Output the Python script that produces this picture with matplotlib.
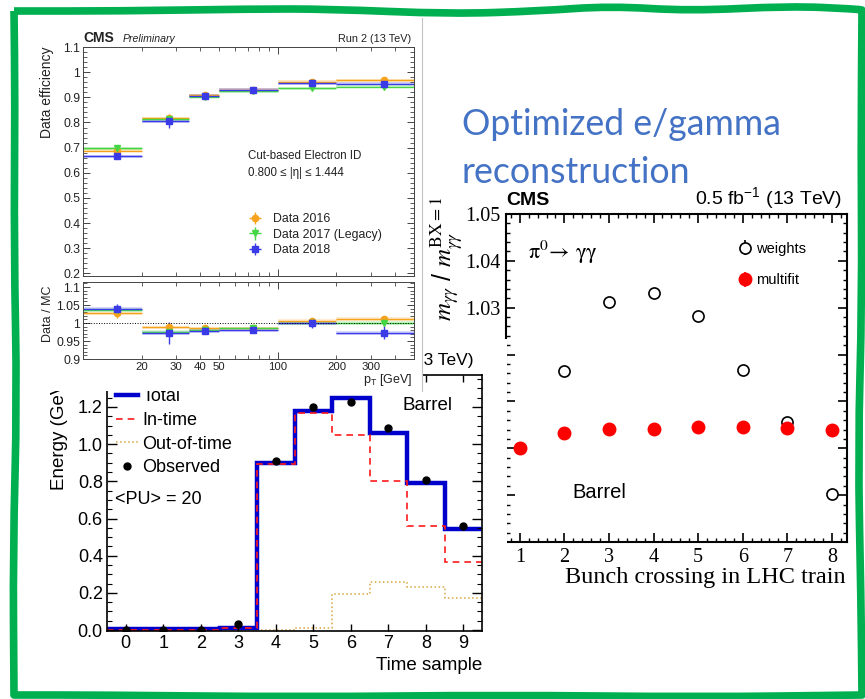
import numpy as np
import matplotlib
matplotlib.use("Agg")
import matplotlib.pyplot as plt
from matplotlib.path import Path
from matplotlib.patches import PathPatch
from matplotlib.ticker import MultipleLocator, FixedLocator, FuncFormatter, NullFormatter

W, H = 865, 699

# electron ID efficiency vs pT (0.800 < |eta| < 1.444)
pt_edges = [10, 20, 35, 50, 100, 200, 500]
pt_centers = [15, 27.5, 42.5, 75, 150, 350]
eff_2016 = [0.688, 0.817, 0.909, 0.931, 0.961, 0.968]
eff_2017 = [0.698, 0.812, 0.902, 0.925, 0.937, 0.943]
eff_2018 = [0.666, 0.805, 0.907, 0.931, 0.956, 0.954]
eff_err_2016 = [0.010, 0.015, 0.006, 0.005, 0.008, 0.010]
eff_err_2017 = [0.010, 0.015, 0.006, 0.006, 0.008, 0.010]
eff_err_2018 = [0.010, 0.025, 0.006, 0.006, 0.010, 0.012]
sf_2016 = [1.027, 0.988, 0.985, 0.985, 1.005, 1.011]
sf_2017 = [1.036, 0.975, 0.980, 0.986, 1.000, 1.000]
sf_2018 = [1.040, 0.972, 0.978, 0.980, 0.999, 0.973]
sf_err_2016 = [0.012, 0.012, 0.004, 0.004, 0.010, 0.008]
sf_err_2017 = [0.012, 0.012, 0.004, 0.004, 0.010, 0.008]
sf_err_2018 = [0.012, 0.030, 0.005, 0.005, 0.012, 0.018]

# ECAL pulse: energy per time sample
samples = list(range(10))
total = [0.005, 0.005, 0.005, 0.013, 0.898, 1.180, 1.248, 1.060, 0.789, 0.543]
in_time = [0.003, 0.003, 0.003, 0.010, 0.893, 1.168, 1.048, 0.800, 0.558, 0.367]
out_of_time = [0.0, 0.0, 0.0, 0.0, 0.002, 0.009, 0.194, 0.256, 0.229, 0.174]
observed = [0.0, 0.0, 0.0, 0.032, 0.910, 1.199, 1.228, 1.088, 0.805, 0.561]

# pi0 mass ratio vs bunch crossing
bx = [1, 2, 3, 4, 5, 6, 7, 8]
weights = [1.0000, 1.0166, 1.0313, 1.0331, 1.0283, 1.0168, 1.0057, 0.9903]
weights_err = [0.0005, 0.0005, 0.0007, 0.0007, 0.0007, 0.0006, 0.0007, 0.0007]
multifit = [1.0000, 1.0033, 1.0042, 1.0041, 1.0046, 1.0046, 1.0044, 1.0039]
multifit_err = [0.0004, 0.0003, 0.0003, 0.0003, 0.0003, 0.0003, 0.0003, 0.0003]

SANS = "Liberation Sans"
SERIF = "Liberation Serif"

plt.rcParams.update({
    "font.family": SANS,
    "xtick.direction": "in",
    "ytick.direction": "in",
    "xtick.top": True,
    "ytick.right": True,
})

fig = plt.figure(figsize=(W / 100, H / 100), dpi=100)


def box(l, t, r, b):
    return [l / W, 1 - b / H, (r - l) / W, (b - t) / H]


def backdrop(l, t, r, b, z):
    bg = fig.add_axes(box(l, t, r, b), zorder=z)
    bg.set_xticks([])
    bg.set_yticks([])
    for s in bg.spines.values():
        s.set_visible(False)
    return bg


gfmt = FuncFormatter(lambda v, p: f"{v:g}")

# slide title
title_kw = dict(fontsize=25.7, color="#4472c4", family="Lato", va="baseline", zorder=0.5)
fig.text(462 / W, 1 - 135 / H, "Optimized e/gamma", **title_kw)
fig.text(462 / W, 1 - 183 / H, "reconstruction", **title_kw)

# ---------------- pi0 mass vs BX ----------------
backdrop(428, 184, 860, 600, 1)
ax3 = fig.add_axes(box(506, 214, 847, 542), zorder=1.1)
ax3.errorbar(bx, weights, yerr=weights_err, fmt="o", ms=8, mfc="white", mec="black",
             mew=1.2, color="black", elinewidth=1.2, capsize=0, label="weights")
ax3.errorbar(bx, multifit, yerr=multifit_err, fmt="o", ms=9, color="red",
             elinewidth=1.2, capsize=0, label="multifit")
ax3.set_xlim(0.69, 8.34)
ax3.set_ylim(0.98, 1.05)
ax3.xaxis.set_major_locator(MultipleLocator(1))
ax3.xaxis.set_minor_locator(MultipleLocator(0.2))
ax3.yaxis.set_major_locator(MultipleLocator(0.01))
ax3.yaxis.set_minor_locator(MultipleLocator(0.002))
# the lower labels sit under the pulse-shape panel
ax3.yaxis.set_major_formatter(FuncFormatter(lambda v, p: f"{v:g}" if v > 1.025 else ""))
for s in ax3.spines.values():
    s.set_linewidth(1.5)
ax3.tick_params(which="major", length=6.5, width=1.2, labelsize=14.5, pad=4)
ax3.tick_params(which="minor", length=3.2, width=1.0, top=True, right=True)
for lab in ax3.get_xticklabels() + ax3.get_yticklabels():
    lab.set_family(SERIF)
ax3.set_xlabel("Bunch crossing in LHC train", family=SERIF, fontsize=17.5)
ax3.xaxis.set_label_coords(0.997, -0.075)
ax3.xaxis.label.set_ha("right")
ax3.set_ylabel(r"$m_{\gamma\gamma}$ / $m_{\gamma\gamma}^{\mathrm{BX=1}}$", fontsize=18,
               math_fontfamily="stix")
ax3.yaxis.set_label_coords(-0.12, 1.052)
ax3.yaxis.label.set_ha("right")
ax3.text(0, 1.027, "CMS", transform=ax3.transAxes, fontsize=14, weight="bold", va="baseline")
ax3.text(0.985, 1.027, r"0.5 fb$^{\mathregular{-1}}$ (13 TeV)", transform=ax3.transAxes,
         fontsize=14, ha="right", va="baseline")
ax3.text(0.065, 0.884, r"$\mathrm{\pi}^{0}\!\rightarrow\,\mathrm{\gamma\gamma}$",
         transform=ax3.transAxes, fontsize=16, math_fontfamily="stix", va="center")
ax3.text(0.196, 0.152, "Barrel", transform=ax3.transAxes, fontsize=14.5, va="center")
ax3.legend(loc="upper left", bbox_to_anchor=(0.683, 0.915), frameon=False, fontsize=10.5,
           handlelength=0.8, handletextpad=0.4, labelspacing=1.2, borderpad=0, borderaxespad=0)

# ---------------- pulse shape ----------------
backdrop(15, 339, 507, 694, 2)
ax2 = fig.add_axes(box(107, 375, 482, 631), zorder=2.1)
edges = np.arange(len(samples) + 1) - 0.5
h_oot = ax2.stairs(out_of_time, edges, baseline=None, color="#d9a441", ls=":", lw=1.1,
                   label="Out-of-time")
h_tot = ax2.stairs(total, edges, baseline=None, color="#0000cc", lw=3.2, label="Total")
h_in = ax2.stairs(in_time, edges, baseline=None, color="#ff1a1a", ls=(0, (4, 3)), lw=1.2,
                  label="In-time")
h_obs, = ax2.plot(samples, observed, "o", color="black", ms=5, label="Observed")
ax2.set_xlim(-0.5, 9.5)
ax2.set_ylim(-0.005, 1.372)
ax2.xaxis.set_major_locator(MultipleLocator(1))
ax2.yaxis.set_major_locator(MultipleLocator(0.2))
ax2.yaxis.set_minor_locator(MultipleLocator(0.05))
ax2.yaxis.set_major_formatter(FuncFormatter(lambda v, p: f"{v:.1f}"))
for s in ax2.spines.values():
    s.set_linewidth(1.2)
ax2.tick_params(axis="x", which="major", length=5, width=1.0, labelsize=13, pad=3)
ax2.tick_params(axis="y", which="major", length=7, width=1.0, labelsize=13, pad=3)
ax2.tick_params(axis="y", which="minor", length=3.5, width=0.8)
ax2.set_xlabel("Time sample", fontsize=13.5)
ax2.xaxis.set_label_coords(1.0, -0.1)
ax2.xaxis.label.set_ha("right")
ax2.set_ylabel("Energy (GeV)", fontsize=13.5)
ax2.yaxis.set_label_coords(-0.105, 1.0)
ax2.yaxis.label.set_ha("right")
ax2.text(0.976, 1.039, "(13 TeV)", transform=ax2.transAxes, fontsize=12.5, ha="right",
         va="baseline")
ax2.text(0.021, 0.512, "<PU> = 20", transform=ax2.transAxes, fontsize=13, va="center")
ax2.text(0.787, 0.879, "Barrel", transform=ax2.transAxes, fontsize=13.5, va="center")
ax2.legend(handles=[h_tot, h_in, h_oot, h_obs], loc="upper left",
           bbox_to_anchor=(0.024, 0.948), frameon=False, fontsize=13, handlelength=1.2,
           handletextpad=0.25, labelspacing=0.37, borderpad=0, borderaxespad=0)

# ---------------- electron ID efficiency ----------------
bg1 = backdrop(15, 18, 422, 391, 3)
bg1.spines["right"].set_visible(True)
bg1.spines["right"].set_color("#c4c4c4")
ax1 = fig.add_axes(box(83, 47, 414, 276), zorder=3.1)
ax1r = fig.add_axes(box(83, 282, 414, 359), zorder=3.1)

years = [
    ("Data 2016", eff_2016, eff_err_2016, sf_2016, sf_err_2016, "#f7a21b", "o"),
    ("Data 2017 (Legacy)", eff_2017, eff_err_2017, sf_2017, sf_err_2017, "#45d645", "v"),
    ("Data 2018", eff_2018, eff_err_2018, sf_2018, sf_err_2018, "#3a3ae6", "s"),
]
lo_edge = np.array(pt_edges[:-1])
widths = np.diff(pt_edges)
xerr = [np.array(pt_centers) - lo_edge, np.array(pt_edges[1:]) - np.array(pt_centers)]
for label, eff, err, sf, sf_err, color, marker in years:
    eff, err, sf, sf_err = map(np.array, (eff, err, sf, sf_err))
    band = np.minimum(err, 0.006)
    sf_band = np.minimum(sf_err, 0.005)
    ax1.bar(lo_edge, 2 * band, bottom=eff - band, width=widths, align="edge",
            color=color, alpha=0.25, lw=0)
    ax1.errorbar(pt_centers, eff, xerr=xerr, yerr=err, fmt=marker, ms=4.5, color=color,
                 elinewidth=1.0, capsize=0, label=label)
    ax1r.bar(lo_edge, 2 * sf_band, bottom=sf - sf_band, width=widths, align="edge",
             color=color, alpha=0.2, lw=0)
    ax1r.errorbar(pt_centers, sf, xerr=xerr, yerr=sf_err, fmt=marker, ms=4.5, color=color,
                  elinewidth=1.0, capsize=0)
ax1r.axhline(1.0, color="black", ls=":", lw=0.7)

for a in (ax1, ax1r):
    a.set_xscale("log")
    a.set_xlim(10, 500)
    a.xaxis.set_major_locator(FixedLocator([100]))
    a.xaxis.set_minor_locator(FixedLocator([20, 30, 40, 50, 60, 70, 80, 90, 200, 300, 400]))
    for s in a.spines.values():
        s.set_linewidth(0.7)
        s.set_color("#444444")
    a.tick_params(which="major", length=5, width=0.7, color="#444444", labelsize=8.8,
                  labelcolor="#222222", pad=2)
    a.tick_params(which="minor", length=2.8, width=0.6, color="#444444", labelsize=8.2,
                  labelcolor="#222222", pad=2)
ax1.xaxis.set_major_formatter(NullFormatter())
ax1.xaxis.set_minor_formatter(NullFormatter())
ax1r.xaxis.set_major_formatter(FuncFormatter(lambda v, p: f"{v:g}"))
ax1r.xaxis.set_minor_formatter(
    FuncFormatter(lambda v, p: f"{v:g}" if v in (20, 30, 40, 50, 200, 300) else ""))
ax1r.tick_params(axis="x", which="both", labelsize=8.2)

ax1.set_ylim(0.19, 1.1)
ax1.yaxis.set_major_locator(MultipleLocator(0.1))
ax1.yaxis.set_minor_locator(MultipleLocator(0.02))
ax1.yaxis.set_major_formatter(gfmt)
ax1r.set_ylim(0.9, 1.114)
ax1r.yaxis.set_major_locator(MultipleLocator(0.05))
ax1r.yaxis.set_minor_locator(MultipleLocator(0.01))
ax1r.yaxis.set_major_formatter(gfmt)

ax1.set_ylabel("Data efficiency", fontsize=10, color="#222222")
ax1.yaxis.set_label_coords(-0.088, 1.0)
ax1.yaxis.label.set_ha("right")
ax1r.set_ylabel("Data / MC", fontsize=9, color="#222222")
ax1r.yaxis.set_label_coords(-0.088, 0.96)
ax1r.yaxis.label.set_ha("right")
ax1r.set_xlabel(r"$\mathregular{p_{T}}$ [GeV]", fontsize=9, color="#222222")
ax1r.xaxis.set_label_coords(0.995, -0.17)
ax1r.xaxis.label.set_ha("right")

ax1.text(0, 1.022, "CMS", transform=ax1.transAxes, fontsize=10, weight="bold",
         va="baseline", color="#222222")
ax1.text(0.121, 1.022, "Preliminary", transform=ax1.transAxes, fontsize=7.6, style="italic",
         va="baseline", color="#222222")
ax1.text(0.991, 1.022, "Run 2 (13 TeV)", transform=ax1.transAxes, fontsize=7.8, ha="right",
         va="baseline", color="#222222")
ax1.text(0.498, 0.524, "Cut-based Electron ID", transform=ax1.transAxes, fontsize=8.3,
         va="center", color="#222222")
ax1.text(0.498, 0.450, "0.800 ≤ |η| ≤ 1.444", transform=ax1.transAxes, fontsize=8.3,
         va="center", color="#222222")
ax1.legend(loc="upper left", bbox_to_anchor=(0.483, 0.275), frameon=False, fontsize=8.9,
           handlelength=2.0, handletextpad=0.4, labelspacing=0.3, borderpad=0,
           borderaxespad=0, labelcolor="#222222")

# ---------------- hand-drawn green frame ----------------
frame_pts = [
    (14, 11), (14, 11), (120, 11), (250, 9), (330, 9), (450, 14), (540, 11), (610, 6),
    (690, 11), (790, 6), (855, 9), (862, 10), (862, 10), (861, 150), (862, 300),
    (858, 450), (861, 600), (862, 695), (862, 695), (700, 697), (500, 695), (300, 697),
    (100, 695), (14, 695), (14, 695), (13, 550), (17, 400), (14, 250), (15, 100),
    (14, 11), (14, 11),
]


def smooth_path(pts):
    pts = np.array([(x / W, 1 - y / H) for x, y in pts])
    verts = [pts[0]]
    codes = [Path.MOVETO]
    for i in range(1, len(pts) - 1):
        verts += [pts[i], (pts[i] + pts[i + 1]) / 2]
        codes += [Path.CURVE3, Path.CURVE3]
    verts.append(pts[-1])
    codes.append(Path.LINETO)
    return Path(verts, codes)


fig.add_artist(PathPatch(smooth_path(frame_pts), transform=fig.transFigure, fill=False,
                         edgecolor="#00b050", lw=5.5, joinstyle="round", zorder=10))

fig.savefig("out.png", dpi=100, facecolor="white")
